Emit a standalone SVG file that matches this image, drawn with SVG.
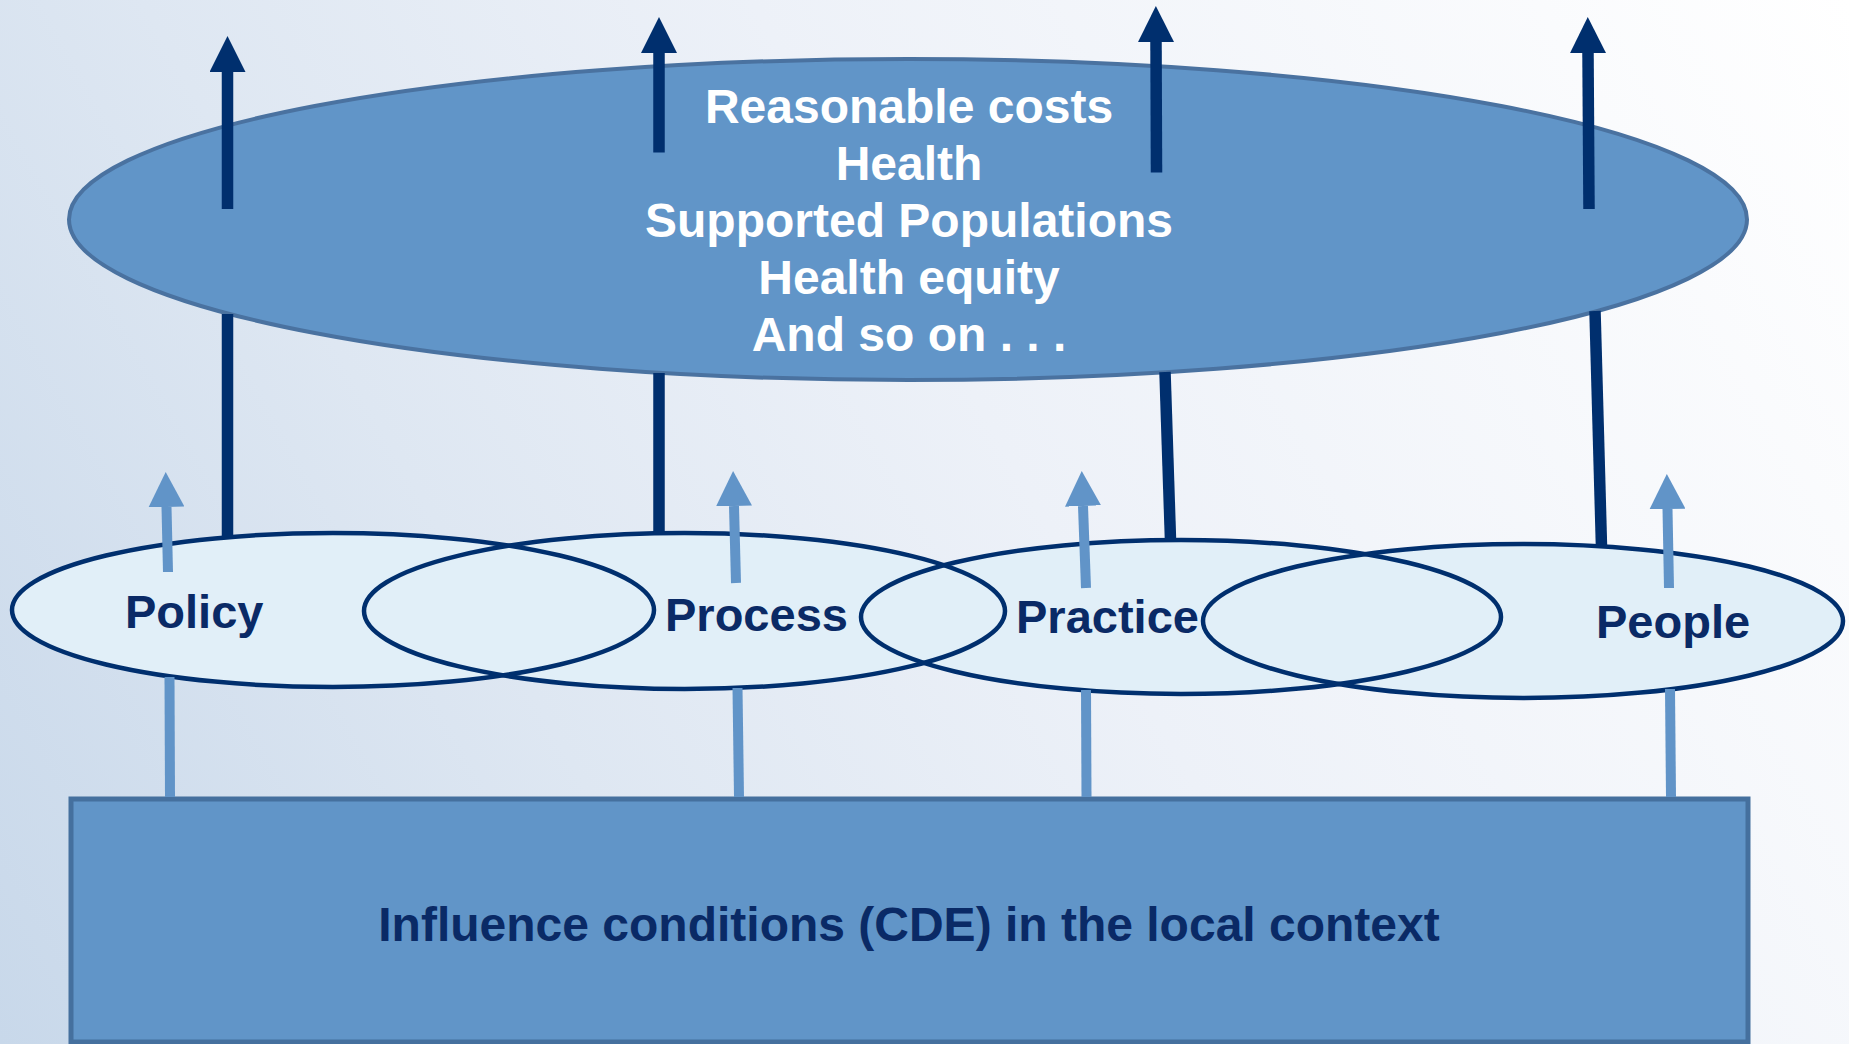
<svg xmlns="http://www.w3.org/2000/svg" width="1849" height="1044" viewBox="0 0 1849 1044">
  <defs>
    <linearGradient id="bg" gradientUnits="userSpaceOnUse" x1="0" y1="1044" x2="1849" y2="0">
      <stop offset="0" stop-color="#C8D8EA"/>
      <stop offset="0.3" stop-color="#DEE7F2"/>
      <stop offset="0.55" stop-color="#EDF1F8"/>
      <stop offset="1" stop-color="#FFFFFF"/>
    </linearGradient>
    <marker id="headDark" markerUnits="userSpaceOnUse" viewBox="0 0 36 36" markerWidth="36" markerHeight="36" refX="0" refY="18" orient="auto">
      <path d="M0,0 L36,18 L0,36 z" fill="#002F6E"/>
    </marker>
    <marker id="headLight" markerUnits="userSpaceOnUse" viewBox="0 0 35 36" markerWidth="35" markerHeight="36" refX="0" refY="18" orient="auto">
      <path d="M0,0 L35,18 L0,36 z" fill="#6194C8"/>
    </marker>
    <style>
      .lbl { font-family: "Liberation Sans", Arial, sans-serif; font-weight: bold; font-size: 47px; fill: #0A2A66; }
      .ctx { font-size: 48px; text-anchor: middle; }
      .out { font-family: "Liberation Sans", Arial, sans-serif; font-weight: bold; font-size: 48px; fill: #FFFFFF; text-anchor: middle; }
      .sm { stroke: #002F6E; stroke-width: 4.5; fill: none; }
      .smfill { fill: #E1EFF8; stroke: none; }
      .dark { stroke: #002F6E; stroke-width: 11.5; fill: none; }
      .light { stroke: #6194C8; stroke-width: 10; fill: none; }
    </style>
  </defs>

  <rect x="0" y="0" width="1849" height="1044" fill="url(#bg)"/>

  <g id="context">
    <rect x="71" y="799" width="1677" height="243" fill="#6195C8" stroke="#45709E" stroke-width="5"/>
    <text class="lbl ctx" x="909" y="941">Influence conditions (CDE) in the local context</text>
  </g>

  <g id="small-fills">
    <ellipse class="smfill" cx="333" cy="610" rx="321" ry="77"/>
    <ellipse class="smfill" cx="684.5" cy="611" rx="320.5" ry="78"/>
    <ellipse class="smfill" cx="1181" cy="617" rx="320" ry="77"/>
    <ellipse class="smfill" cx="1523" cy="621" rx="320" ry="77"/>
  </g>

  <g id="policy">
    <ellipse class="sm" cx="333" cy="610" rx="321" ry="77"/>
    <text class="lbl" x="125" y="628">Policy</text>
  </g>
  <g id="process">
    <ellipse class="sm" cx="684.5" cy="611" rx="320.5" ry="78"/>
    <text class="lbl" x="665" y="631">Process</text>
  </g>
  <g id="practice">
    <ellipse class="sm" cx="1181" cy="617" rx="320" ry="77"/>
    <text class="lbl" x="1016" y="633">Practice</text>
  </g>
  <g id="people">
    <ellipse class="sm" cx="1523" cy="621" rx="320" ry="77"/>
    <text class="lbl" x="1596" y="638">People</text>
  </g>

  <g id="outcomes">
    <ellipse cx="908" cy="219.5" rx="839" ry="160.5" fill="#6195C8" stroke="#4A72A0" stroke-width="4"/>
    <text class="out" x="909" y="123">Reasonable costs</text>
    <text class="out" x="909" y="180">Health</text>
    <text class="out" x="909" y="237">Supported Populations</text>
    <text class="out" x="909" y="294">Health equity</text>
    <text class="out" x="909" y="351">And so on . . .</text>
  </g>

  <g id="connectors">
    <line class="light" x1="170" y1="797" x2="169.5" y2="677"/>
    <line class="light" x1="739" y1="797" x2="737.5" y2="688"/>
    <line class="light" x1="1086.5" y1="797" x2="1086" y2="690"/>
    <line class="light" x1="1671" y1="797" x2="1670" y2="689"/>
    <line class="light" x1="168" y1="572" x2="166.5" y2="507" marker-end="url(#headLight)"/>
    <line class="light" x1="736" y1="583" x2="734" y2="506" marker-end="url(#headLight)"/>
    <line class="light" x1="1086" y1="588" x2="1083" y2="506" marker-end="url(#headLight)"/>
    <line class="light" x1="1669" y1="588" x2="1667.5" y2="509" marker-end="url(#headLight)"/>
    <line class="dark" x1="227.5" y1="537" x2="227.5" y2="314"/>
    <line class="dark" x1="659" y1="533" x2="659" y2="373"/>
    <line class="dark" x1="1170.5" y1="540" x2="1165" y2="372"/>
    <line class="dark" x1="1601.5" y1="547" x2="1595" y2="311"/>
    <line class="dark" x1="227.5" y1="209" x2="227.5" y2="72" marker-end="url(#headDark)"/>
    <line class="dark" x1="659" y1="152.5" x2="659" y2="53" marker-end="url(#headDark)"/>
    <line class="dark" x1="1156.5" y1="172.5" x2="1156" y2="42" marker-end="url(#headDark)"/>
    <line class="dark" x1="1589" y1="209" x2="1588" y2="53" marker-end="url(#headDark)"/>
  </g>
</svg>
